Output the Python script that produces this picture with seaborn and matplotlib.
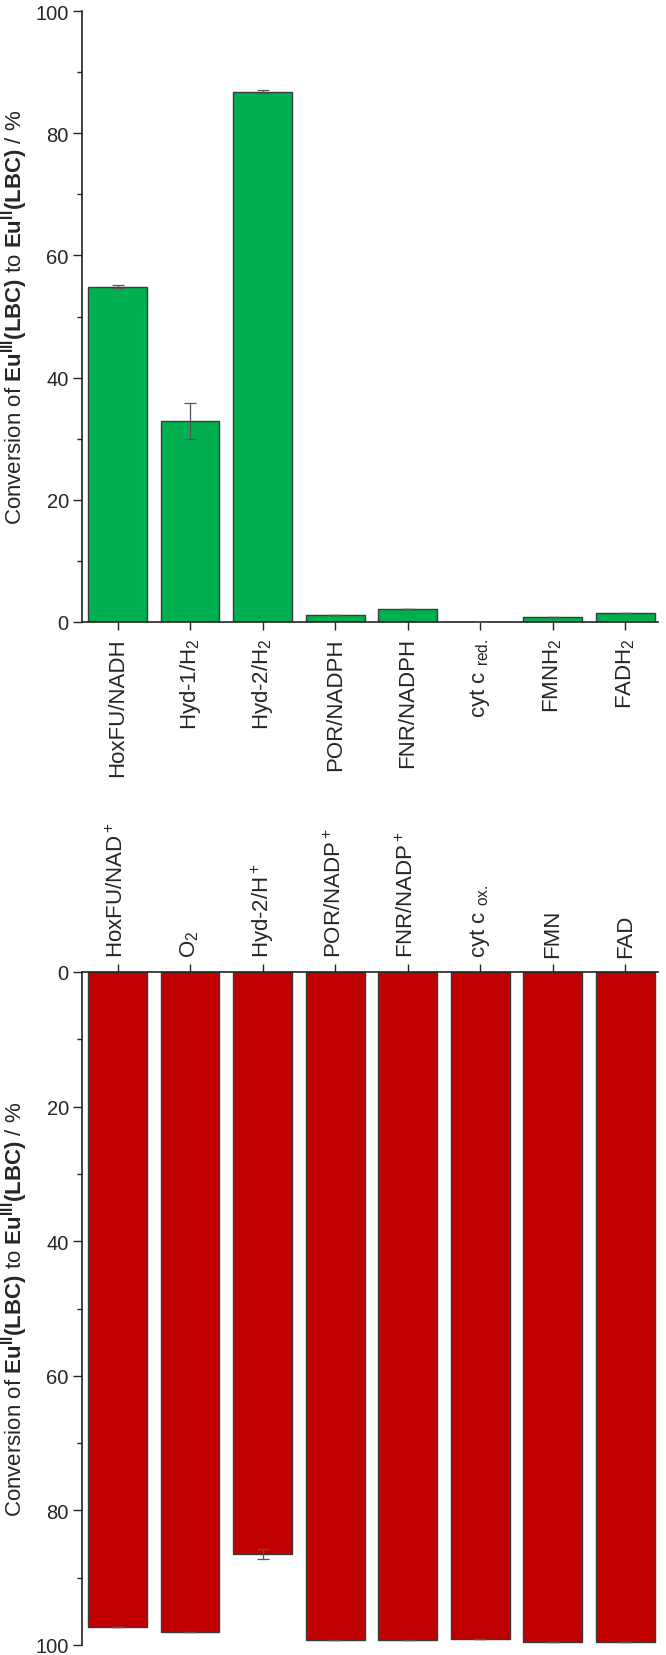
import matplotlib
matplotlib.use("Agg")
import matplotlib.pyplot as plt
import numpy as np
import pandas as pd
import seaborn as sns
from matplotlib.ticker import MultipleLocator

# reduction: Eu(III) -> Eu(II)
red_labels = ["HoxFU/NADH", "Hyd-1/H$_2$", "Hyd-2/H$_2$", "POR/NADPH",
              "FNR/NADPH", "cyt c $_{\\mathrm{red.}}$", "FMNH$_2$", "FADH$_2$"]
red_values = [54.9, 32.9, 86.8, 1.2, 2.2, 0.0, 0.9, 1.4]
red_errors = [0.3, 3.0, 0.2, 0.0, 0.0, 0.0, 0.0, 0.0]

# oxidation: Eu(II) -> Eu(III)
ox_labels = ["HoxFU/NAD$^+$", "O$_2$", "Hyd-2/H$^+$", "POR/NADP$^+$",
             "FNR/NADP$^+$", "cyt c $_{\\mathrm{ox.}}$", "FMN", "FAD"]
ox_values = [97.3, 98.0, 86.5, 99.2, 99.3, 99.1, 99.5, 99.6]
ox_errors = [0.0, 0.0, 0.7, 0.0, 0.0, 0.0, 0.0, 0.0]

sns.set_theme(style="ticks")
plt.rcParams["font.family"] = ["Liberation Sans", "DejaVu Sans"]
plt.rcParams["mathtext.fontset"] = "custom"
plt.rcParams["mathtext.rm"] = "Liberation Sans"
plt.rcParams["mathtext.it"] = "Liberation Sans:italic"
plt.rcParams["mathtext.bf"] = "Liberation Sans:bold"

W, H = 666, 1656
fig = plt.figure(figsize=(W / 100, H / 100), dpi=100)
left, right = 82 / W, 658 / W
ax1 = fig.add_axes([left, 1 - 623 / H, right - left, (623 - 12) / H])
ax2 = fig.add_axes([left, 1 - 1646 / H, right - left, (1646 - 973) / H])

edge = "#3a3a3a"
green = "#00B050"
red = "#C00000"

red_df = pd.DataFrame({"pair": red_labels, "conv": red_values})
ox_df = pd.DataFrame({"pair": ox_labels, "conv": ox_values})

sns.barplot(data=red_df, x="pair", y="conv", color=green, edgecolor=edge,
            linewidth=1.0, saturation=1, width=0.81, errorbar=None, ax=ax1)
sns.barplot(data=ox_df, x="pair", y="conv", color=red, edgecolor=edge,
            linewidth=1.0, saturation=1, width=0.81, errorbar=None, ax=ax2)

x = np.arange(len(red_labels))
ax1.errorbar(x, red_values, yerr=red_errors, fmt="none", ecolor="#555555",
             elinewidth=0.9, capsize=4, capthick=0.9, zorder=5)
ax2.errorbar(x, ox_values, yerr=ox_errors, fmt="none", ecolor="#555555",
             elinewidth=0.9, capsize=4, capthick=0.9, zorder=5)

for ax in (ax1, ax2):
    ax.set_xlim(-0.49, 7.45)
    ax.set_ylim(0, 100)
    ax.yaxis.set_major_locator(MultipleLocator(20))
    ax.yaxis.set_minor_locator(MultipleLocator(10))
    ax.tick_params(axis="y", which="major", length=6.5, width=1, labelsize=14.5,
                   direction="out", color="#222222", pad=3)
    ax.tick_params(axis="y", which="minor", length=3.5, width=1, direction="out",
                   color="#222222")
    ax.tick_params(axis="x", length=6, width=1, labelsize=16, direction="out",
                   color="#222222", pad=5)
    ax.set_xlabel("")
    for s in ax.spines.values():
        s.set_linewidth(1.2)
        s.set_color("#222222")

# top panel
sns.despine(ax=ax1)
ax1.set_xticks(x)
ax1.set_xticklabels(red_labels, rotation=90, va="top", ha="center")
ax1.set_ylabel("Conversion of $\\mathbf{Eu}^{\\mathbf{III}}\\mathbf{(LBC)}$ to "
               "$\\mathbf{Eu}^{\\mathbf{II}}\\mathbf{(LBC)}$ / %", fontsize=16)
ax1.yaxis.set_label_coords(-0.09, 0.5)

# bottom panel: inverted, axis on top
ax2.set_ylim(100, 0)
ax2.spines["bottom"].set_visible(False)
ax2.spines["right"].set_visible(False)
ax2.xaxis.tick_top()
ax2.set_xticks(x)
ax2.set_xticklabels(ox_labels, rotation=90, va="bottom", ha="center")
ax2.set_ylabel("Conversion of $\\mathbf{Eu}^{\\mathbf{II}}\\mathbf{(LBC)}$ to "
               "$\\mathbf{Eu}^{\\mathbf{III}}\\mathbf{(LBC)}$ / %", fontsize=16)
ax2.yaxis.set_label_coords(-0.09, 0.5)

fig.savefig("out.png", dpi=100, facecolor="white")
